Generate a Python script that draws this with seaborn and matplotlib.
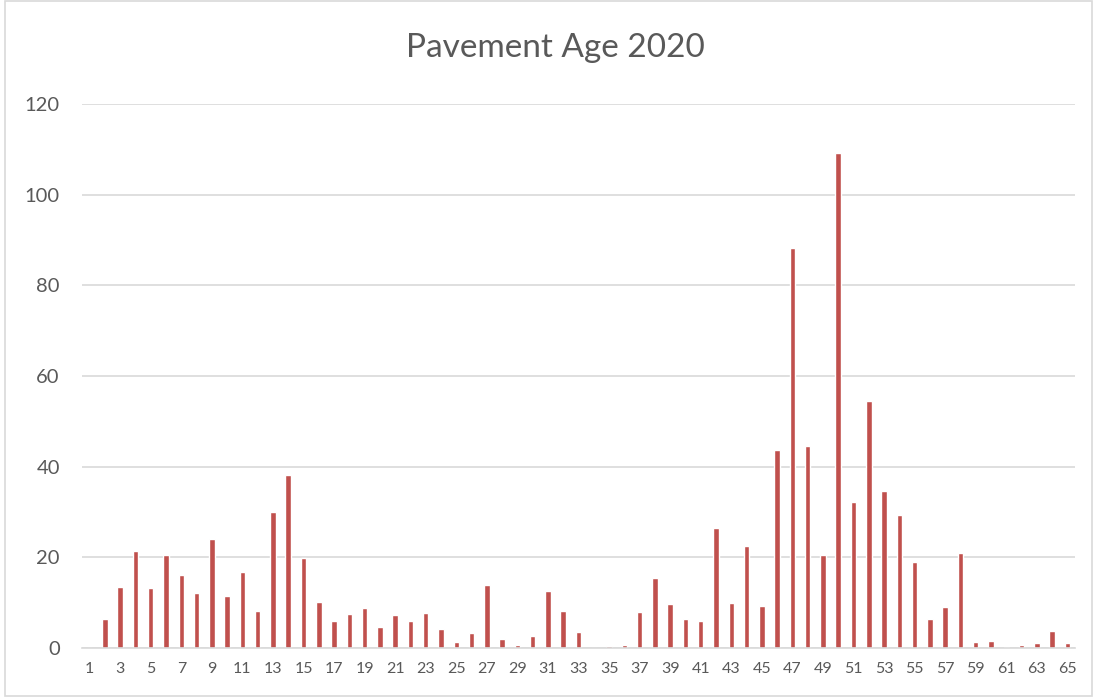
import numpy as np
import pandas as pd
import seaborn as sns
import matplotlib.pyplot as plt
from matplotlib.patches import Rectangle

# Pavement age (years) and mileage per age
ages = list(range(1, 66))
values = [0, 6.3, 13.5, 21.3, 13.2, 20.5, 16.2, 12.1, 24.0, 11.5,
          16.7, 8.2, 29.9, 38.2, 19.9, 10.1, 6.0, 7.5, 8.8, 4.7,
          7.3, 6.0, 7.7, 4.2, 1.3, 3.2, 14.0, 2.0, 0.7, 2.6,
          12.6, 8.2, 3.5, 0, 0.4, 0.7, 7.9, 15.5, 9.6, 6.4,
          5.9, 26.5, 9.9, 22.4, 9.3, 43.7, 88.2, 44.6, 20.6, 109.3,
          32.2, 54.4, 34.6, 29.3, 19.0, 6.4, 9.1, 21.0, 1.3, 1.5,
          0.3, 0.6, 1.2, 3.8, 1.0]
y_ticks = [0, 20, 40, 60, 80, 100, 120]

df = pd.DataFrame({"age": [str(a) for a in ages], "value": values})

sns.set_theme(style="white")
plt.rcParams['font.family'] = ['Lato', 'DejaVu Sans']

fig = plt.figure(figsize=(10.97, 6.97), dpi=100)
ax = fig.add_axes([82 / 1097, 1 - 648 / 697, (1075 - 82) / 1097, (648 - 104) / 697])

sns.barplot(data=df, x="age", y="value", order=df["age"], color="#C0504D",
            width=0.36, saturation=1, ax=ax)

ax.set_ylim(0, 120)
ax.set_xlim(-0.5, len(ages) - 0.5)
ax.set_yticks(y_ticks)
ax.set_yticklabels([str(t) for t in y_ticks], fontsize=14.5, color="#595959")
ax.set_xticks(range(len(ages)))
ax.set_xticklabels([str(a) if a % 2 == 1 else "" for a in ages], fontsize=11.5, color="#595959")
ax.tick_params(axis="x", length=0, pad=10)
ax.tick_params(axis="y", length=0, pad=16)

ax.grid(axis="y", color="#D9D9D9", linewidth=1.2)
ax.set_axisbelow(True)
for s in ["top", "right", "left"]:
    ax.spines[s].set_visible(False)
ax.spines["bottom"].set_color("#D9D9D9")
ax.spines["bottom"].set_linewidth(1.2)
ax.set_xlabel("")
ax.set_ylabel("")

fig.text(555 / 1097, 1 - 48 / 697, "Pavement Age 2020", ha="center", va="center",
         fontsize=24, color="#595959")

# chart area border
fig.patches.append(Rectangle((5 / 1097, 0.002), 1 - 10 / 1097, 0.996, transform=fig.transFigure,
                             fill=False, edgecolor="#D9D9D9", linewidth=1.2))

fig.savefig("out.png", dpi=100, facecolor="white")
